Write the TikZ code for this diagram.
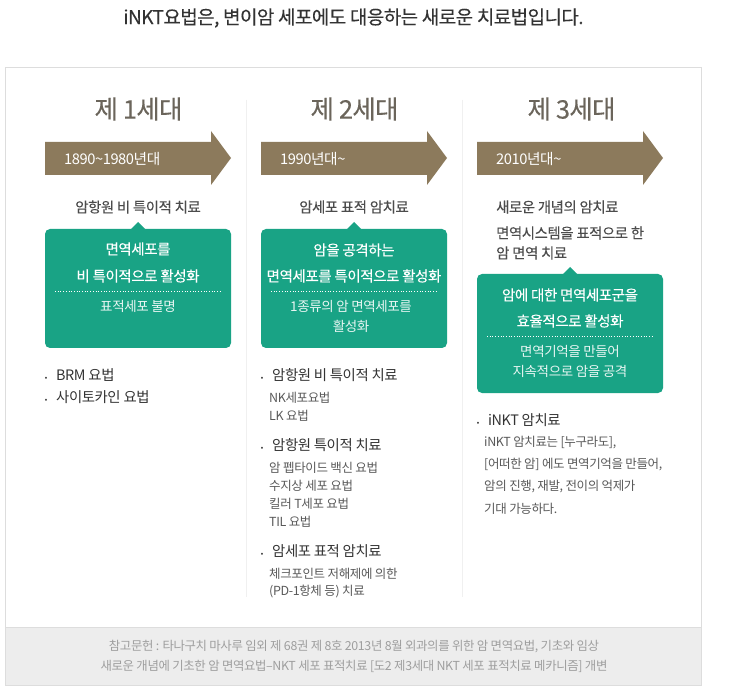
\documentclass[tikz,border=0pt]{standalone}
\usepackage{fontspec}
\setmainfont[LetterSpace=-3]{Noto Sans CJK KR}
\newfontfamily\heavyfont[LetterSpace=-3,FakeBold=0.2]{Noto Sans CJK KR}
\usepackage{tikz}
\newcommand{\arrowcolor}{arrowbrown}
\newcommand{\boxcolor}{boxgreen}
\newcommand{\boxradius}{5pt}
\definecolor{arrowbrown}{HTML}{8C7A5C}
\definecolor{boxgreen}{HTML}{19A385}
\definecolor{framegray}{HTML}{DDDDDD}
\definecolor{rulegray}{HTML}{F0F0F0}
\definecolor{notegray}{HTML}{EDEDED}
\definecolor{titlebrown}{HTML}{6B655B}
\tikzset{
  pagetitle/.style={text=black!80, font=\heavyfont\fontsize{19}{19}\selectfont, anchor=center, inner sep=0pt, yshift=-1pt},
  gentitle/.style={text=titlebrown, font=\heavyfont\fontsize{25.5}{25.5}\selectfont, anchor=center, inner sep=0pt},
  arrowtext/.style={text=white, font=\fontsize{14.7}{14.7}\selectfont, anchor=west, inner sep=0pt, yshift=-1pt},
  headtext/.style={text=black!70, font=\heavyfont\fontsize{14.4}{14.4}\selectfont, inner sep=0pt, yshift=-1pt},
  boxhead/.style={text=white, font=\heavyfont\fontsize{14.5}{14.5}\selectfont, anchor=center, inner sep=0pt},
  boxsub/.style={text=white!90!boxgreen, font=\fontsize{13.5}{13.5}\selectfont, anchor=center, inner sep=0pt},
  itemhead/.style={text=black!80, font=\fontsize{14.4}{14.4}\selectfont, anchor=west, inner sep=0pt, yshift=-1pt},
  itemsub/.style={text=black!65, font=\fontsize{12.5}{12.5}\selectfont, anchor=west, inner sep=0pt, yshift=-1pt},
  itemdot/.style={itemhead, yshift=-5pt},
  notetext/.style={text=black!38, font=\fontsize{12.4}{12.4}\selectfont, anchor=center, inner sep=0pt, yshift=-1pt},
  dotline/.style={white, line width=0.7pt, dotted}
}
\begin{document}
\begin{tikzpicture}[x=1pt,y=-1pt]
\useasboundingbox (0,0) rectangle (753,695);
\fill[white] (0,0) rectangle (753,695);
\node[pagetitle] (title) at (353.5,17) {iNKT요법은, 변이암 세포에도 대응하는 새로운 치료법입니다.};
%frame
\draw[framegray, fill=white] (5.5,67.5) rectangle (701.5,685.5);
\draw[framegray, fill=notegray] (5.5,627.5) rectangle (701.5,685.5);
\draw[rulegray] (246.5,100) -- (246.5,597);
\draw[rulegray] (462.5,100) -- (462.5,597);
%1
\node[gentitle] (gen1) at (138.5,109) {제 1세대};
\fill[\arrowcolor] (45,142) -- (211,142) -- (211,131) -- (231,158) -- (211,185) -- (211,175) -- (45,175) -- cycle;
\node[arrowtext] (era1) at (64,158) {1890\textasciitilde1980년대};
\node[headtext] (head1) at (138,206) {암항원 비 특이적 치료};
\fill[\boxcolor, rounded corners=\boxradius] (45,229) rectangle (231,348);
\fill[\boxcolor] (131,229) -- (138,222) -- (145,229) -- cycle;
\node[boxhead] (box1a) at (138,249) {면역세포를};
\node[boxhead] (box1b) at (138,276) {비 특이적으로 활성화};
\draw[dotline] (55,291) -- (221,291);
\node[boxsub] (box1c) at (138,306) {표적세포 불명};
\node[itemdot] (dot1a) at (42,374) {·};
\node[itemhead] (item1a) at (56,374) {BRM 요법};
\node[itemdot] (dot1b) at (42,396) {·};
\node[itemhead] (item1b) at (56,396) {사이토카인 요법};
%2
\node[gentitle] (gen2) at (354.5,109) {제 2세대};
\fill[\arrowcolor] (261,142) -- (427,142) -- (427,131) -- (447,158) -- (427,185) -- (427,175) -- (261,175) -- cycle;
\node[arrowtext] (era2) at (280,158) {1990년대\textasciitilde};
\node[headtext] (head2) at (354,206) {암세포 표적 암치료};
\fill[\boxcolor, rounded corners=\boxradius] (261,229) rectangle (447,348);
\fill[\boxcolor] (347,229) -- (354,222) -- (361,229) -- cycle;
\node[boxhead] (box2a) at (354,250) {암을 공격하는};
\node[boxhead] (box2b) at (354,276) {면역세포를 특이적으로 활성화};
\draw[dotline] (271,291) -- (437,291);
\node[boxsub] (box2c) at (351,306) {1종류의 암 면역세포를};
\node[boxsub] (box2d) at (351,326) {활성화};
\node[itemdot] (dot2a) at (258,374) {·};
\node[itemhead] (item2a) at (272,374) {암항원 비 특이적 치료};
\node[itemsub] (sub2a) at (269,397) {NK세포요법};
\node[itemsub] (sub2b) at (269,415) {LK 요법};
\node[itemdot] (dot2b) at (258,444) {·};
\node[itemhead] (item2b) at (272,444) {암항원 특이적 치료};
\node[itemsub] (sub2c) at (269,467) {암 펩타이드 백신 요법};
\node[itemsub] (sub2d) at (269,485) {수지상 세포 요법};
\node[itemsub] (sub2e) at (269,503) {킬러 T세포 요법};
\node[itemsub] (sub2f) at (269,521) {TIL 요법};
\node[itemdot] (dot2c) at (258,550) {·};
\node[itemhead] (item2c) at (272,550) {암세포 표적 암치료};
\node[itemsub] (sub2g) at (269,573) {체크포인트 저해제에 의한};
\node[itemsub] (sub2h) at (269,591) {(PD-1항체 등) 치료};
%3
\node[gentitle] (gen3) at (571.5,109) {제 3세대};
\fill[\arrowcolor] (477,142) -- (643,142) -- (643,131) -- (663,158) -- (643,185) -- (643,175) -- (477,175) -- cycle;
\node[arrowtext] (era3) at (496,158) {2010년대\textasciitilde};
\node[headtext, anchor=west] (head3a) at (496,206) {새로운 개념의 암치료};
\node[headtext, anchor=west] (head3b) at (496,232) {면역시스템을 표적으로 한};
\node[headtext, anchor=west] (head3c) at (496,252) {암 면역 치료};
\fill[\boxcolor, rounded corners=\boxradius] (477,274) rectangle (663,393);
\fill[\boxcolor] (563,274) -- (570,267) -- (577,274) -- cycle;
\node[boxhead] (box3a) at (570,295) {암에 대한 면역세포군을};
\node[boxhead] (box3b) at (570,321) {효율적으로 활성화};
\draw[dotline] (487,336) -- (653,336);
\node[boxsub] (box3c) at (570,351) {면역기억을 만들어};
\node[boxsub] (box3d) at (570,371) {지속적으로 암을 공격};
\node[itemdot] (dot3a) at (474,419) {·};
\node[itemhead] (item3a) at (488,419) {iNKT 암치료};
\node[itemsub] (sub3a) at (484,442) {iNKT 암치료는 [누구라도],};
\node[itemsub] (sub3b) at (484,464) {[어떠한 암] 에도 면역기억을 만들어,};
\node[itemsub] (sub3c) at (484,486) {암의 진행, 재발, 전이의 억제가};
\node[itemsub] (sub3d) at (484,508) {기대 가능하다.};
%note
\node[notetext] (note1) at (354,646) {참고문헌 : 타나구치 마사루 임외 제 68권 제 8호 2013년 8월 외과의를 위한 암 면역요법, 기초와 임상};
\node[notetext] (note2) at (354,665) {새로운 개념에 기초한 암 면역요법–NKT 세포 표적치료 [도2 제3세대 NKT 세포 표적치료 메카니즘] 개변};
\end{tikzpicture}
\end{document}
